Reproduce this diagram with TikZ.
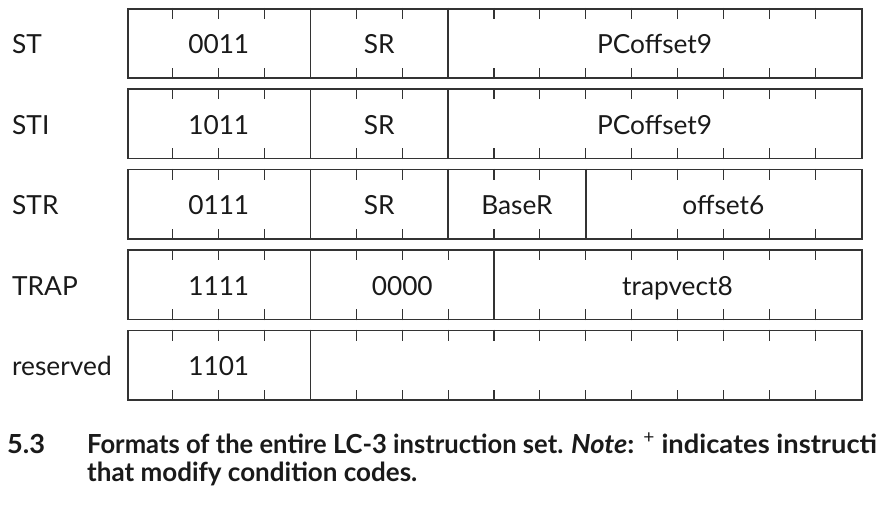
\documentclass[tikz,border=0pt]{standalone}
\usepackage{fontspec}
\usepackage{graphicx}
\setmainfont{Lato}
\definecolor{linecol}{HTML}{333333}
\definecolor{txtcol}{HTML}{1A1A1A}
\newsavebox\measbox
\newcommand\labfont{\fontsize{17.5}{20}\selectfont}
\newcommand\capfnt{\fontsize{25}{28}\selectfont\bfseries}
\newcommand\lbl[1]{\scalebox{\lsx}{\labfont #1}}
\newcommand\capt[1]{\scalebox{\csx}[1.05]{\capfnt #1}}
\tikzset{
  boxstyle/.style={draw=linecol, line width=1.6pt, minimum width=734pt, minimum height=69.5pt, inner sep=0pt},
  divider/.style={draw=linecol, line width=1.6pt},
  tickmark/.style={draw=linecol, line width=1.2pt},
  bittext/.style={inner sep=0pt, anchor=base, text=txtcol},
  lab/.style={inner sep=0pt, anchor=base west, text=txtcol},
}
% #1 row index, #2 node name, #3 label, #4 field boundaries, #5 tick positions, #6 fields s/e/text
\newcommand\instrrow[6]{%
  \pgfmathsetmacro\rt{8+80.4*#1}
  \node[boxstyle, anchor=north west] (#2) at (127,\rt) {};
  \node[lab] (#2-lab) at (12,\rt+46) {\lbl{#3}};
  \foreach \b in {#4} {
    \draw[divider] ([xshift={45.875pt*\b}]#2.north west) -- ([xshift={45.875pt*\b}]#2.south west);
  }
  \foreach \k in {#5} {
    \draw[tickmark] ([xshift={45.875pt*\k}]#2.north west) -- ++(0,11);
    \draw[tickmark] ([xshift={45.875pt*\k}]#2.south west) -- ++(0,-11);
  }
  \foreach \s/\e/\t in {#6} {
    \node[bittext] (#2-f\s) at ({127+45.875*(\s+\e)/2}, \rt+46) {\lbl{\t}};
  }
}
\begin{document}
\sbox\measbox{\labfont PCoffset9}%
\pgfmathsetmacro\lsx{115/\the\wd\measbox}%
\sbox\measbox{\capfnt Formats of the entire LC-3 instruction set.}%
\pgfmathsetmacro\csx{476/\the\wd\measbox}%
\sbox\measbox{\capfnt 5.3}%
\pgfmathsetmacro\nsx{38/\the\wd\measbox}%
\sbox\measbox{\capfnt \textit{Note}: \textsuperscript{\mdseries +} indicates instructi}%
\pgfmathsetmacro\ksx{306/\the\wd\measbox}%
\sbox\measbox{\capfnt that modify condition codes.}%
\pgfmathsetmacro\tsx{330/\the\wd\measbox}%
\begin{tikzpicture}[x=1pt,y=-1pt]
\useasboundingbox (0,0) rectangle (878,518);
\clip (0,0) rectangle (878,518);
\fill[white] (0,0) rectangle (878,518);

\instrrow{0}{st}{ST}{4,7}{1,2,3,5,6,8,9,10,11,12,13,14,15}{0/4/0011, 4/7/SR, 7/16/PCoffset9}
\instrrow{1}{sti}{STI}{4,7}{1,2,3,5,6,8,9,10,11,12,13,14,15}{0/4/1011, 4/7/SR, 7/16/PCoffset9}
\instrrow{2}{str}{STR}{4,7,10}{1,2,3,5,6,8,9,11,12,13,14,15}{0/4/0111, 4/7/SR, 7/10/BaseR, 10/16/offset6}
\instrrow{3}{trap}{TRAP}{4,8}{1,2,3,5,6,7,9,10,11,12,13,14,15}{0/4/1111, 4/8/0000, 8/16/trapvect8}
\instrrow{4}{res}{reserved}{4}{1,2,3,5,6,7,8,9,10,11,12,13,14,15}{0/4/1101}

\node[lab] (fignum) at (7,453) {\scalebox{\nsx}[1.05]{\capfnt 5.3}};
\node[lab] (cap1) at (87,453) {\capt{Formats of the entire LC-3 instruction set.}};
\node[lab] (cap1b) at (571,453) {\scalebox{\ksx}[1.05]{\capfnt \textit{Note}: \textsuperscript{\mdseries +} indicates instructions}};
\node[lab] (cap2) at (87,481) {\scalebox{\tsx}[1.05]{\capfnt that modify condition codes.}};
\end{tikzpicture}
\end{document}
